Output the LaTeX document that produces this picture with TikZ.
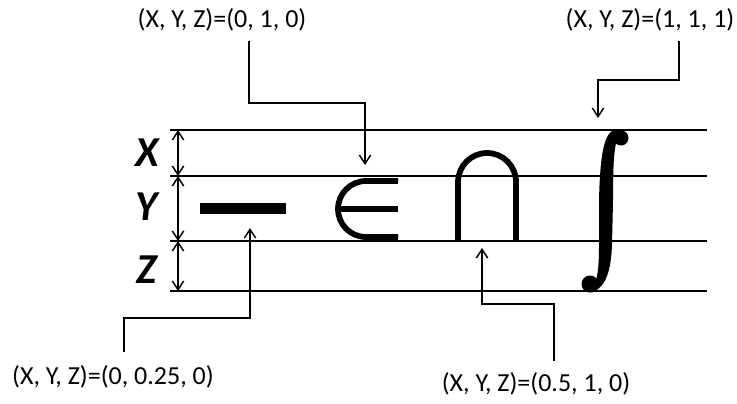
\documentclass[tikz,border=0pt]{standalone}
\usepackage{fontspec}
\setmainfont{Carlito}
\usetikzlibrary{arrows.meta}
\begin{document}
\begin{tikzpicture}[x=0.75pt,y=-0.75pt,
  rule/.style={line width=1.1pt},
  conn/.style={line width=1.1pt,-{Straight Barb[length=6.5pt,width=8.5pt]}},
  dim/.style={line width=1.1pt,{Straight Barb[length=6.5pt,width=8.5pt]}-{Straight Barb[length=6.5pt,width=8.5pt]}},
  axis/.style={font=\fontsize{32}{35}\selectfont\bfseries\itshape,inner sep=0pt},
  lab/.style={font=\fontsize{19.5}{23}\selectfont,inner sep=0pt},
  glyph/.style={line width=4.3pt,line cap=butt}]
\useasboundingbox (0,0) rectangle (737,403);
% horizontal rules
\coordinate (l1) at (170,130); \coordinate (r1) at (707,130);
\coordinate (l2) at (170,176); \coordinate (r2) at (707,176);
\coordinate (l3) at (170,241); \coordinate (r3) at (707,241);
\coordinate (l4) at (170,291); \coordinate (r4) at (707,291);
\draw[rule] (l1) -- (r1);
\draw[rule] (l2) -- (r2);
\draw[rule] (l3) -- (r3);
\draw[rule] (l4) -- (r4);
% dimension arrows
\coordinate (d1) at (178,130);
\coordinate (d2) at (178,176);
\coordinate (d3) at (178,241);
\coordinate (d4) at (178,291);
\draw[dim] (d1) -- (d2);
\draw[dim] (d2) -- (d3);
\draw[dim] (d3) -- (d4);
\node[axis] (ax) at (147,153) {X};
\node[axis] (ay) at (147,207) {Y};
\node[axis] (az) at (147,270) {Z};
% glyphs
\fill (200,203) rectangle (286,214);
\draw[glyph] (398,181) -- (366,181) arc[start angle=-90,end angle=-270,radius=28] -- (398,237);
\draw[glyph] (338,209) -- (398,209);
\draw[glyph] (458,241) -- (458,182) arc[start angle=180,end angle=360,radius=29] -- (516,241);
\fill (612,131) .. controls (603,137) and (600,160) .. (599,200) -- (599,245)
      .. controls (599,272) and (597,286) .. (588,292) -- (593,292)
      .. controls (607,286) and (611,268) .. (612,245) -- (613,200)
      .. controls (613,160) and (614,140) .. (621,131) -- cycle;
\fill (621,138) circle[radius=7.5];
\fill (590,284) circle[radius=8.5];
% callouts
\node[lab] (t1) at (222,20) {(X, Y, Z)=(0, 1, 0)};
\node[lab] (t2) at (650,20) {(X, Y, Z)=(1, 1, 1)};
\node[lab] (t3) at (113,377) {(X, Y, Z)=(0, 0.25, 0)};
\node[lab] (t4) at (536,384) {(X, Y, Z)=(0.5, 1, 0)};
\coordinate (s1) at (249,41);  \coordinate (e1) at (365,165);
\coordinate (s2) at (679,41);  \coordinate (e2) at (598,118);
\coordinate (s3) at (124,352); \coordinate (e3) at (250,228);
\coordinate (s4) at (554,361); \coordinate (e4) at (482,248);
\draw[conn] (s1) -- (249,103) -| (e1);
\draw[conn] (s2) -- (679,80) -| (e2);
\draw[conn] (s3) -- (124,318) -| (e3);
\draw[conn] (s4) -- (554,304) -| (e4);
\end{tikzpicture}
\end{document}
